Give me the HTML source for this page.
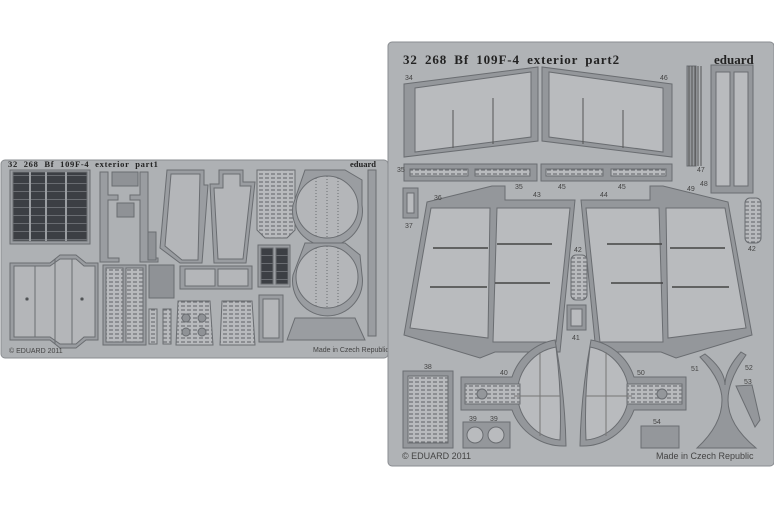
<!DOCTYPE html>
<html><head><meta charset="utf-8"><style>
html,body{margin:0;padding:0;background:#fff;width:774px;height:516px;overflow:hidden}
svg{display:block}
text{font-family:"Liberation Sans",sans-serif;fill:#444}
.t{font-family:"Liberation Serif",serif;font-weight:bold;fill:#222}
</style></head><body>
<svg width="774" height="516" viewBox="0 0 774 516" xmlns="http://www.w3.org/2000/svg">
<defs>
<pattern id="grid" width="7" height="8" patternUnits="userSpaceOnUse"><rect width="7" height="8" fill="#3c3f44"/><path d="M0 7.5H7" stroke="#6a6d72" stroke-width="1"/></pattern>
<pattern id="dash" width="6" height="4" patternUnits="userSpaceOnUse"><rect width="6" height="4" fill="#b8babd"/><path d="M1 2H5" stroke="#6e7175" stroke-width="1.2"/></pattern>
</defs>
<g stroke="#6a6d71" stroke-width="1" fill="#b4b6b9">
<!-- LEFT FRET -->
<rect x="1" y="160" width="387" height="198" fill="#aeb1b4" stroke="#8a8d91" rx="4"/>
<rect x="10" y="170" width="80" height="74" fill="#9a9da1"/>
<rect x="13" y="172" width="74" height="69" fill="url(#grid)"/>
<path d="M30 172V241M46 172V241M66 172V241" stroke="#9a9da1" stroke-width="2"/>
<path d="M10 263H50L60 255H76L86 263H98V340H86L76 348H60L50 340H10Z" fill="#9a9da1"/>
<path d="M14 266H50L60 259H76L84 266H95V337H84L76 344H60L50 337H14Z"/>
<path d="M35 266V337M55 259V344M72 259V344" fill="none"/>
<circle cx="27" cy="299" r="1.3" fill="#333"/><circle cx="82" cy="299" r="1.3" fill="#333"/>
<path d="M100 172H108V195H118V200H108V258H119V262H100Z" fill="#9a9da1"/>
<path d="M140 172H148V258H158V262H140V200H130V195H140Z" fill="#9a9da1"/>
<rect x="112" y="172" width="26" height="14" fill="#8f9296"/>
<rect x="117" y="203" width="17" height="14" fill="#8f9296"/>
<rect x="148" y="232" width="8" height="28" fill="#8f9296"/>
<rect x="103" y="265" width="43" height="80" fill="#9a9da1"/>
<rect x="106" y="268" width="17" height="74" fill="url(#dash)"/>
<rect x="126" y="268" width="17" height="74" fill="url(#dash)"/>
<rect x="149" y="265" width="25" height="33" fill="#8f9296"/>
<rect x="149" y="309" width="8" height="35" fill="url(#dash)"/>
<rect x="163" y="309" width="8" height="35" fill="url(#dash)"/>
<path d="M167 170H204V185H208L202 263H180L160 248Z" fill="#9a9da1"/>
<path d="M171 174H200L198 260H182L165 246Z"/>
<path d="M219 170H243V182H255L246 263H214L210 184H219Z" fill="#9a9da1"/>
<path d="M223 174H240V186H251L243 259H218L214 188H223Z"/>
<rect x="180" y="266" width="72" height="23" fill="#9a9da1"/>
<rect x="185" y="269" width="30" height="17"/><rect x="218" y="269" width="30" height="17"/>
<path d="M178 301H210L213 345H176Z" fill="url(#dash)"/>
<circle cx="186" cy="318" r="4" fill="#8f9296"/><circle cx="202" cy="318" r="4" fill="#8f9296"/>
<circle cx="186" cy="332" r="4" fill="#8f9296"/><circle cx="202" cy="332" r="4" fill="#8f9296"/>
<path d="M222 301H252L255 345H220Z" fill="url(#dash)"/>
<path d="M257 170H295V230L287 238H265L257 230Z" fill="url(#dash)"/>
<rect x="258" y="245" width="32" height="42" fill="#9a9da1"/>
<rect x="261" y="248" width="12" height="36" fill="url(#grid)"/><rect x="276" y="248" width="12" height="36" fill="url(#grid)"/>
<rect x="259" y="295" width="24" height="47" fill="#9a9da1"/><rect x="263" y="299" width="16" height="39"/>
<path d="M293 205A35 35 0 1 0 362 205V180L345 170H305Z" fill="#9a9da1"/>
<circle cx="327" cy="207" r="31"/>
<path d="M316 178V236M327 176V238M338 178V236" stroke-dasharray="1 2" fill="none"/>
<path d="M293 275A35 35 0 1 0 362 275L360 255L345 243H305Z" fill="#9a9da1"/>
<circle cx="327" cy="277" r="31"/>
<path d="M316 248V306M327 246V308M338 248V306" stroke-dasharray="1 2" fill="none"/>
<path d="M287 340L295 318H355L365 340Z" fill="#9a9da1"/>
<rect x="368" y="170" width="8" height="166" fill="#9a9da1"/>
</g>
<text x="8" y="167" class="t" font-size="8.5" letter-spacing="0.7" word-spacing="3">32 268  Bf 109F-4 exterior   part1</text>
<text x="350" y="167" class="t" font-size="8.5">eduard</text>
<text x="9" y="353" font-size="7">© EDUARD 2011</text>
<text x="313" y="352" font-size="7">Made in Czech Republic</text>

<g stroke="#6a6d71" stroke-width="1" fill="#b9bbbe">
<rect x="388" y="42" width="386" height="424" fill="#b0b3b6" stroke="#8a8d91" rx="4"/>
<path d="M404 84L538 67V141L404 157Z" fill="#94979b"/>
<path d="M415 88L531 72V137L415 152Z"/>
<path d="M453 110V148M493 98V144" fill="none" stroke="#555"/>
<path d="M672 84L542 67V141L672 157Z" fill="#94979b"/>
<path d="M663 88L549 72V137L663 152Z"/>
<path d="M583 98V144M623 110V148" fill="none" stroke="#555"/>
<rect x="404" y="164" width="133" height="17" fill="#94979b"/>
<rect x="410" y="169" width="58" height="7" fill="url(#dash)"/><rect x="475" y="169" width="55" height="7" fill="url(#dash)"/>
<rect x="541" y="164" width="131" height="17" fill="#94979b"/>
<rect x="546" y="169" width="57" height="7" fill="url(#dash)"/><rect x="611" y="169" width="55" height="7" fill="url(#dash)"/>
<rect x="687" y="66" width="9" height="100" fill="#94979b"/>
<path d="M689 66V166M692 66V166M695 66V166M698 66V166M701 66V166" stroke="#555"/>
<rect x="711" y="65" width="42" height="128" fill="#94979b"/>
<rect x="716" y="72" width="14" height="114"/><rect x="734" y="72" width="14" height="114"/>
<rect x="403" y="188" width="15" height="30" fill="#94979b"/><rect x="407" y="193" width="7" height="20"/>
<path d="M427 202L492 186H505V200H575L560 352H495L480 358L404 335Z" fill="#94979b"/>
<path d="M431 208H490L488 338L410 328Z"/>
<path d="M497 208H570L556 342H493Z"/>
<path d="M433 248H488M430 287H487M497 244H552M495 283H550" stroke="#444" stroke-width="1.5" fill="none"/>
<path d="M581 200H650V186H663L728 202L752 335L676 358L661 352H596Z" fill="#94979b"/>
<path d="M586 208H659L663 342H600Z"/>
<path d="M666 208H725L746 328L668 338Z"/>
<path d="M607 244H662M611 283H663M670 248H725M672 287H729" stroke="#444" stroke-width="1.5" fill="none"/>
<rect x="571" y="255" width="16" height="45" rx="5" fill="url(#dash)"/>
<rect x="745" y="198" width="16" height="45" rx="5" fill="url(#dash)"/>
<rect x="567" y="305" width="19" height="25" fill="#94979b"/><rect x="571" y="309" width="11" height="17"/>
<rect x="403" y="371" width="50" height="77" fill="#94979b"/>
<rect x="408" y="376" width="40" height="67" fill="url(#dash)"/>
<rect x="463" y="422" width="47" height="26" fill="#94979b"/>
<circle cx="475" cy="435" r="8"/><circle cx="496" cy="435" r="8"/>
<!-- 40 -->
<path d="M461 377H512A55 55 0 0 1 555 340Q565 394 566 446A55 55 0 0 1 512 410H461Z" fill="#94979b"/>
<path d="M556 347A47 47 0 0 0 560 440Q562 394 556 347Z"/>
<rect x="465" y="384" width="55" height="20" fill="url(#dash)"/>
<circle cx="482" cy="394" r="5" fill="#94979b"/>
<path d="M514 396H560M540 352V436" stroke="#777" fill="none"/>
<!-- 50 -->
<path d="M686 377H634A55 55 0 0 0 591 340Q581 394 580 446A55 55 0 0 0 634 410H686Z" fill="#94979b"/>
<path d="M590 347A47 47 0 0 1 586 440Q584 394 590 347Z"/>
<rect x="627" y="384" width="55" height="20" fill="url(#dash)"/>
<circle cx="662" cy="394" r="5" fill="#94979b"/>
<path d="M586 396H632M606 352V436" stroke="#777" fill="none"/>
<rect x="641" y="426" width="38" height="22" fill="#94979b"/>
<!-- 51 -->
<path d="M700 357Q722 380 722 400Q722 425 697 448H756Q728 425 728 400Q728 380 746 355L741 352Q725 370 725 385Q725 370 705 354Z" fill="#94979b"/>
<path d="M736 386L752 385L760 420L755 427Z" fill="#94979b"/>
</g>
<text x="403" y="64" class="t" font-size="13" letter-spacing="0.9" word-spacing="3">32 268  Bf 109F-4 exterior   part2</text>
<text x="714" y="64" class="t" font-size="13">eduard</text>
<g font-size="7">
<text x="405" y="80">34</text><text x="660" y="80">46</text>
<text x="397" y="172">35</text><text x="515" y="189">35</text><text x="558" y="189">45</text><text x="618" y="189">45</text>
<text x="434" y="200">36</text><text x="533" y="197">43</text><text x="600" y="197">44</text><text x="687" y="191">49</text>
<text x="697" y="172">47</text><text x="700" y="186">48</text><text x="405" y="228">37</text>
<text x="574" y="252">42</text><text x="748" y="251">42</text><text x="572" y="340">41</text>
<text x="424" y="369">38</text><text x="500" y="375">40</text><text x="637" y="375">50</text>
<text x="469" y="421">39</text><text x="490" y="421">39</text><text x="653" y="424">54</text>
<text x="691" y="371">51</text><text x="745" y="370">52</text><text x="744" y="384">53</text>
</g>
<text x="402" y="459" font-size="9">© EDUARD 2011</text>
<text x="656" y="459" font-size="9">Made in Czech Republic</text>
</svg>
</body></html>
